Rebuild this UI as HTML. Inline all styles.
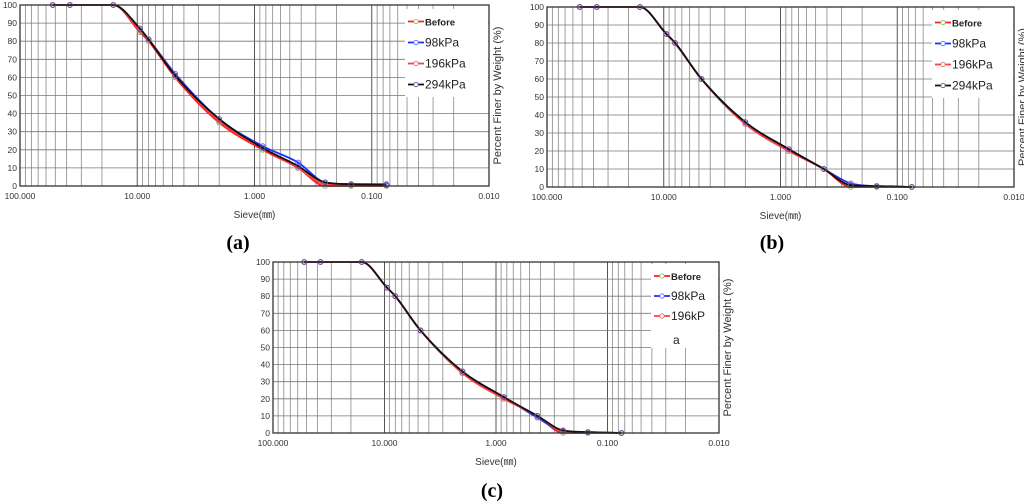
<!DOCTYPE html>
<html><head><meta charset="utf-8"><style>
html,body{margin:0;padding:0;background:#fff;width:1024px;height:501px;overflow:hidden}
svg{display:block;font-family:"Liberation Sans",sans-serif}
</style></head><body>
<svg id="fig" width="1024" height="501" viewBox="0 0 1024 501" xmlns="http://www.w3.org/2000/svg"></svg>
<script>
const sieveSizes=[52.5,37.5,16,9.5,8,4.75,2,0.85,0.425,0.25,0.15,0.075];
const xTickLabels=["100.000","10.000","1.000","0.100","0.010"];
const yTicks=[0,10,20,30,40,50,60,70,80,90,100];
const aBefore=[100,100,100,85,80,60,35,20,10,0,0,0];
const a98=[100,100,100,86,81,62,37,22,13,2,1,1];
const a196=[100,100,100,86,81,61,36,21,10,1,0.5,0.5];
const a294=[100,100,100,87,81,61,37,21,11,2,1,0.5];
const bBefore=[100,100,100,85,80,60,35,20,10,0,0,0];
const b98=[100,100,100,85,80,60,36,21,10,2,0.5,0];
const b196=[100,100,100,85,80,60,35,20,10,1,0.5,0];
const b294=[100,100,100,85,80,60,36,21,10,1,0.5,0];
const cBefore=[100,100,100,85,80,60,35,20,10,0,0,0];
const c98=[100,100,100,85,80,60,36,21,9,1,0.5,0];
const c196=[100,100,100,85,80,60,35,20,10,1,0.5,0];
const c294=[100,100,100,85,80,60,36,21,10,1.5,0.5,0];
const NS="http://www.w3.org/2000/svg";
const svg=document.getElementById('fig');
function mk(t,at,p){const e=document.createElementNS(NS,t);for(const k in at)e.setAttribute(k,at[k]);(p||svg).appendChild(e);return e;}
function smooth(pts){
  const n=pts.length,d=[],m=[];
  for(let i=0;i<n-1;i++)d.push((pts[i+1][1]-pts[i][1])/(pts[i+1][0]-pts[i][0]));
  m[0]=d[0];m[n-1]=d[n-2];
  for(let i=1;i<n-1;i++)m[i]=(d[i-1]*d[i]<=0)?0:(d[i-1]+d[i])/2;
  for(let i=0;i<n-1;i++){if(d[i]===0){m[i]=0;m[i+1]=0;continue;}
    const a=m[i]/d[i],b=m[i+1]/d[i],s=a*a+b*b;if(s>9){const t=3/Math.sqrt(s);m[i]=t*a*d[i];m[i+1]=t*b*d[i];}}
  let s='M'+pts[0][0].toFixed(1)+','+pts[0][1].toFixed(1);
  for(let i=0;i<n-1;i++){const h=(pts[i+1][0]-pts[i][0])/3;
    s+='C'+(pts[i][0]+h).toFixed(1)+','+(pts[i][1]+m[i]*h).toFixed(1)+' '+(pts[i+1][0]-h).toFixed(1)+','+(pts[i+1][1]-m[i+1]*h).toFixed(1)+' '+pts[i+1][0].toFixed(1)+','+pts[i+1][1].toFixed(1);}
  return s;
}
function chart(id,L,R,T,B,series,legend,label,lx,ly){
  const g=mk('g',{});
  
  
  const xs=d=>L+(2-Math.log10(d))*(R-L)/4;
  const ys=v=>B-v*(B-T)/100;
  for(let dec=0;dec<4;dec++){const base=Math.pow(10,2-dec);
    for(let m=2;m<10;m++){
      const x=xs(base/10*m);
      const l=mk('line',{x1:x,x2:x,y1:T,y2:B,stroke:'#888','stroke-width':0.8},g);
      }
  }
  xTickLabels.forEach((t,i)=>{const x=xs(Math.pow(10,2-i));
    const l=mk('line',{x1:x,x2:x,y1:T,y2:B,stroke:'#555','stroke-width':1},g);
    
    const tx=mk('text',{x:x,y:B+13,'font-size':8.5,'text-anchor':'middle',fill:'#333'},g);tx.textContent=t;
    });
  yTicks.forEach(v=>{const y=ys(v);
    const l=mk('line',{x1:L,x2:R,y1:y,y2:y,stroke:'#777','stroke-width':0.8},g);
    
    const tx=mk('text',{x:L-3,y:y+3,'font-size':8.5,'text-anchor':'end',fill:'#333'},g);tx.textContent=v;
    });
  const lgx=legend.x,lgy=legend.y;
  const lb=mk('rect',{x:lgx,y:lgy,width:R-lgx-1,height:legend.h,fill:'#fff'},g);
  
  const sty=[{c:'#ff2020',mc:'#8fbf60'},{c:'#2030ff',mc:'#6070ff'},{c:'#ff4040',mc:'#e07070'},{c:'#111',mc:'#7050a0'}];
  series.forEach((s,si)=>{const st=sty[si];
    const pts=s.map((v,i)=>[xs(sieveSizes[i]),ys(v)]);
    const p=mk('path',{d:smooth(pts),fill:'none',stroke:st.c,'stroke-width':1.8,'stroke-linejoin':'round'},g);
    
    s.forEach((v,i)=>{const x=xs(sieveSizes[i]),y=ys(v);
      const c=mk('circle',{cx:x,cy:y,r:2.4,fill:'none',stroke:st.mc,'stroke-width':1},g);
      });
  });
  legend.items.forEach((t,i)=>{const y=lgy+legend.gap*(i+0.5)+2;const st=sty[i];
    const l=mk('line',{x1:lgx+3,x2:lgx+19,y1:y,y2:y,stroke:st.c,'stroke-width':1.8},g);
    
    mk('circle',{cx:lgx+11,cy:y,r:2.2,fill:'#fff',stroke:st.mc,'stroke-width':0.9},g);
    const tx=mk('text',{x:lgx+20,y:y+4,'font-size':i==0?9.5:12,'font-weight':i==0?'bold':'normal',fill:'#222'},g);tx.textContent=t;
    });
  if(legend.extra){const tx=mk('text',{x:lgx+22,y:lgy+legend.h-4,'font-size':12,fill:'#222'},g);tx.textContent=legend.extra;
    }
  const fr=mk('rect',{x:L,y:T,width:R-L,height:B-T,fill:'none',stroke:'#333','stroke-width':1.3},g);
  
  const xt=mk('text',{x:(L+R)/2,y:B+32,'font-size':10,'text-anchor':'middle',fill:'#333'},g);xt.textContent='Sieve(㎜)';
  
  const yt=mk('text',{x:0,y:0,'font-size':11,'text-anchor':'middle',fill:'#333',transform:`translate(${R+12},${(T+B)/2}) rotate(-90)`},g);yt.textContent='Percent Finer by Weight (%)';
  
  const pl=mk('text',{x:lx,y:ly,'font-size':20,'font-weight':'bold','font-family':'Liberation Serif, serif','text-anchor':'middle',fill:'#000'},g);pl.textContent=label;
  
}
chart('a',20,489,5,186,[aBefore,a98,a196,a294],{x:405,y:9,h:88,gap:21,items:['Before','98kPa','196kPa','294kPa']},'(a)',238,249);
chart('b',547,1014,7,187,[bBefore,b98,b196,b294],{x:932,y:10,h:88,gap:21,items:['Before','98kPa','196kPa','294kPa']},'(b)',772,249);
chart('c',273,719,262,433,[cBefore,c98,c196,c294],{x:651,y:264,h:84,gap:20,items:['Before','98kPa','196kP'],extra:'a'},'(c)',492,497);
</script>
</body></html>
